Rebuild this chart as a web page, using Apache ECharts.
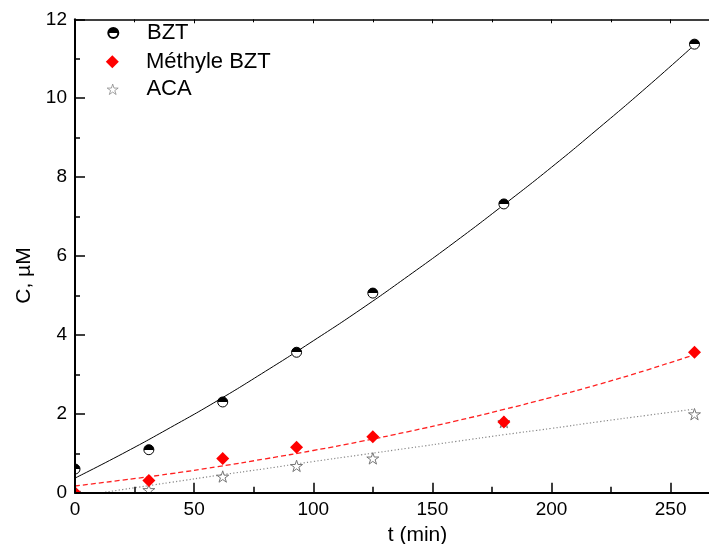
<!DOCTYPE html>
<html>
<head>
<meta charset="utf-8">
<script src="https://cdn.jsdelivr.net/npm/echarts@6/dist/echarts.min.js"></script>
<style>
html,body{margin:0;padding:0;background:#fff;}
#chart{width:709px;height:544px;}
</style>
</head>
<body>
<div id="chart"></div>
<script>
// ---- data ----
const seriesNames = ['BZT', 'Méthyle BZT', 'ACA'];
const tPoints = [0, 31, 62, 93, 125, 180, 260];
const bztValues = [0.6, 1.09, 2.3, 3.56, 5.06, 7.32, 11.37];
const methylValues = [0, 0.31, 0.87, 1.15, 1.42, 1.79, 3.56];
const acaValues = [0, 0.07, 0.41, 0.68, 0.87, 1.79, 1.99];

// fitted curves
const tFit = [0, 20, 40, 60, 80, 100, 120, 140, 160, 180, 200, 220, 240, 260];
const bztFit = [0.37, 0.99, 1.65, 2.34, 3.08, 3.85, 4.65, 5.50, 6.38, 7.30, 8.25, 9.25, 10.28, 11.35];
const methylFit = [0.17, 0.32, 0.48, 0.66, 0.86, 1.07, 1.30, 1.55, 1.82, 2.11, 2.42, 2.75, 3.11, 3.50];
const acaFit = [-0.10, 0.08, 0.26, 0.44, 0.61, 0.79, 0.96, 1.13, 1.30, 1.47, 1.63, 1.80, 1.96, 2.12];

const xTickLabels = ['0', '50', '100', '150', '200', '250'];
const yTickLabels = ['0', '2', '4', '6', '8', '10', '12'];
const xTitle = 't (min)';
const yTitle = 'C, µM';

// ---- build ----
const pair = (xs, ys) => xs.map((x, i) => [x, ys[i]]);
const FONT = '"Liberation Sans", Arial, sans-serif';
const STAR = 'path://M10,0 L12.245,6.91 L19.511,6.91 L13.633,11.18 L15.878,18.09 L10,13.82 L4.122,18.09 L6.367,11.18 L0.489,6.91 L7.755,6.91 Z';
const DIAMOND = 'path://M10,0 L20,10 L10,20 L0,10 Z';
const halfFill = new echarts.graphic.LinearGradient(0, 0, 0, 1, [
  {offset: 0, color: '#000'}, {offset: 0.5, color: '#000'},
  {offset: 0.5, color: '#fff'}, {offset: 1, color: '#fff'}
]);

const chart = echarts.init(document.getElementById('chart'), null, {renderer: 'canvas'});

function legendFor(item, size, centerY) {
  const left = 112.3 - size / 2;
  const textPad = 146 - (left + size + 5);
  return {
    data: [item],
    orient: 'vertical',
    left: left,
    top: centerY - 11,
    padding: 0,
    itemWidth: size,
    itemHeight: size,
    itemGap: 0,
    symbolKeepAspect: true,
    selectedMode: false,
    z: 12,
    textStyle: {fontSize: 22, color: '#000', fontFamily: FONT, lineHeight: 22, padding: [0, 0, 0, textPad]}
  };
}

const option = {
  animation: false,
  backgroundColor: '#fff',
  grid: {left: 75, top: 19.3, bottom: 51.3, width: 685, containLabel: false, outerBoundsMode: 'none'},
  legend: [
    legendFor(seriesNames[0], 10, 33),
    legendFor(seriesNames[1], 13, 61.7),
    legendFor({name: seriesNames[2], itemStyle: {color: '#fff', borderColor: '#8a8a8a', borderWidth: 0.8}}, 11, 89.3)
  ],
  xAxis: [{
    type: 'value', position: 'bottom', min: 0, max: 287.5, interval: 50, z: 10,
    name: xTitle, nameLocation: 'middle', nameGap: 31,
    nameTextStyle: {fontSize: 21, color: '#000', fontFamily: FONT},
    axisLine: {show: true, onZero: false, lineStyle: {color: '#000', width: 2}},
    axisTick: {show: true, inside: true, length: 10, lineStyle: {color: '#000', width: 1.5}},
    minorTick: {show: true, splitNumber: 2, length: 6, lineStyle: {color: '#000', width: 1.5}},
    splitLine: {show: false},
    axisLabel: {fontSize: 19, color: '#000', fontFamily: FONT, margin: 8,
      formatter: v => xTickLabels.indexOf(String(v)) >= 0 ? String(v) : ''}
  }, {
    type: 'value', position: 'top', min: 0, max: 287.5, interval: 50, z: 10,
    axisLine: {show: true, onZero: false, lineStyle: {color: '#000', width: 1.5}},
    axisTick: {show: true, inside: true, length: 4, lineStyle: {color: '#000', width: 1}},
    minorTick: {show: true, splitNumber: 2, length: 3, lineStyle: {color: '#000', width: 1}},
    splitLine: {show: false},
    axisLabel: {show: false}
  }],
  yAxis: [{
    type: 'value', min: 0, max: 12, interval: 2, z: 10,
    name: yTitle, nameLocation: 'middle', nameGap: 38,
    nameTextStyle: {fontSize: 21, color: '#000', fontFamily: FONT, padding: [0, 39, 0, 0]},
    axisLine: {show: true, onZero: false, lineStyle: {color: '#000', width: 2}},
    axisTick: {show: true, inside: true, length: 10, lineStyle: {color: '#000', width: 1.5}},
    minorTick: {show: true, splitNumber: 2, length: 5, lineStyle: {color: '#000', width: 1.5}},
    splitLine: {show: false},
    axisLabel: {fontSize: 19, color: '#000', fontFamily: FONT, margin: 8,
      formatter: v => yTickLabels.indexOf(String(v)) >= 0 ? String(v) : ''}
  }],
  series: [
    {type: 'line', name: 'fitBZT', data: pair(tFit, bztFit), smooth: true, showSymbol: false, symbol: 'none',
      lineStyle: {color: '#000', width: 1}, z: 2, silent: true},
    {type: 'line', name: 'fitMethyl', data: pair(tFit, methylFit), smooth: true, showSymbol: false, symbol: 'none',
      lineStyle: {color: '#ff2020', width: 1.3, type: [5, 3]}, z: 2, silent: true},
    {type: 'line', name: 'fitACA', data: pair(tFit, acaFit), smooth: true, showSymbol: false, symbol: 'none',
      lineStyle: {color: '#888', width: 1.2, type: [1.2, 2.2]}, z: 2, silent: true},
    {type: 'scatter', name: seriesNames[2], data: pair(tPoints, acaValues), symbol: STAR, symbolSize: 12,
      symbolKeepAspect: true, itemStyle: {color: '#fff', borderColor: '#777', borderWidth: 1, opacity: 1}, z: 3},
    {type: 'scatter', name: seriesNames[1], data: pair(tPoints, methylValues), symbol: DIAMOND, symbolSize: 13,
      symbolKeepAspect: true, itemStyle: {color: '#ff0000', opacity: 1}, z: 4},
    {type: 'scatter', name: seriesNames[0], data: pair(tPoints, bztValues), symbol: 'circle', symbolSize: 10,
      itemStyle: {color: halfFill, borderColor: '#000', borderWidth: 1, opacity: 1}, z: 5}
  ]
};
chart.setOption(option);

// white mask outside the plot area so markers on the axes are clipped like the original
const px0 = chart.convertToPixel({xAxisIndex: 0}, 0);
const py0 = chart.convertToPixel({yAxisIndex: 0}, 0);
chart.setOption({
  graphic: [
    {type: 'rect', z: 8, silent: true, shape: {x: 0, y: 0, width: px0, height: 544}, style: {fill: '#fff'}},
    {type: 'rect', z: 8, silent: true, shape: {x: 0, y: py0, width: 709, height: 544 - py0}, style: {fill: '#fff'}}
  ]
});
</script>
</body>
</html>
